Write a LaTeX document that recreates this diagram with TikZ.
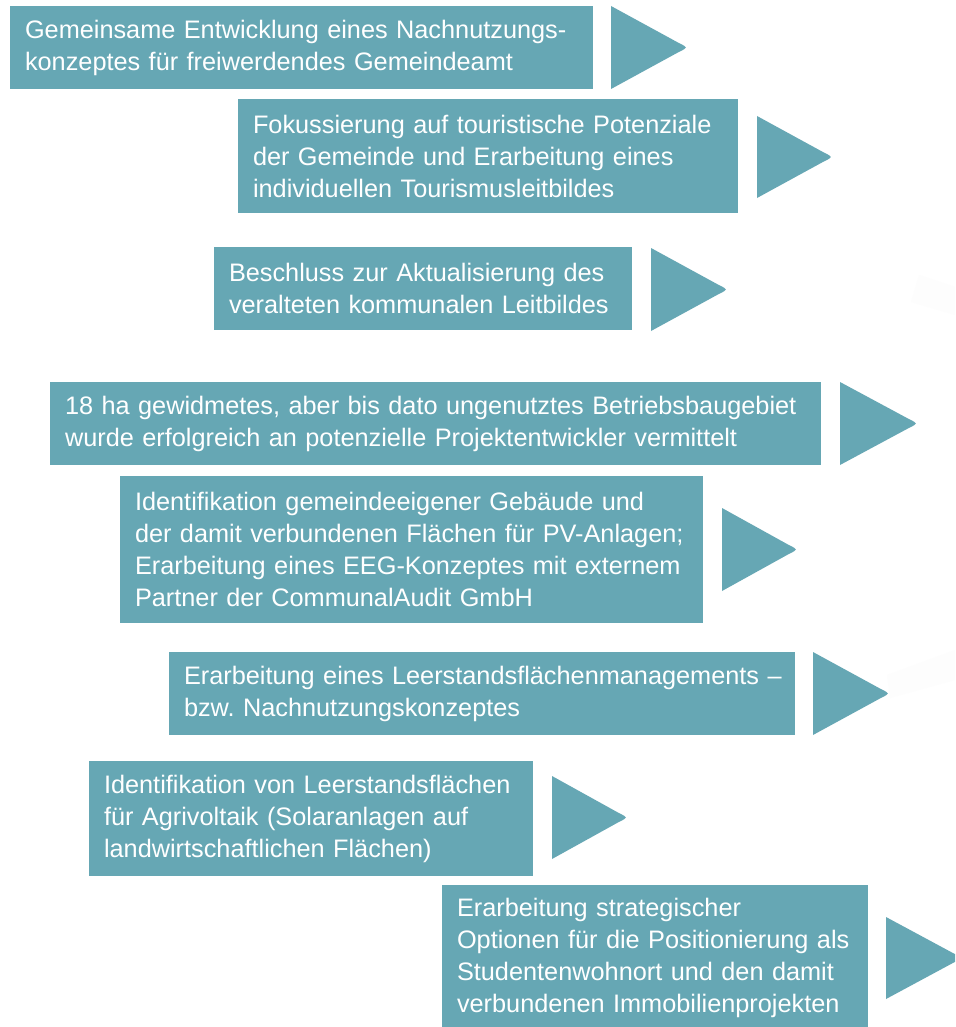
\documentclass[tikz,border=0pt]{standalone}
\usepackage{fontspec}
\setmainfont{Liberation Sans}
\definecolor{teal1}{RGB}{102,167,180}
\definecolor{faint}{RGB}{253,253,253}
\tikzset{
  box/.style={fill=teal1, text=white, inner xsep=15pt, inner ysep=0pt, align=left,
    font=\fontsize{25.3}{32}\selectfont\frenchspacing, anchor=center},
  tri/.style={fill=teal1},
}
\newcommand{\tri}[4]{% x0 x1 ytop ybot
  \fill[tri] (#1,#3) -- ({#2-8},{(#3+#4)/2-4.4}) .. controls ({#2+1},{(#3+#4)/2}) .. ({#2-8},{(#3+#4)/2+4.4}) -- (#1,#4) -- cycle;}
\begin{document}
\begin{tikzpicture}[x=1pt,y=-1pt]
\clip (0,0) rectangle (955,1027);
\fill[white] (0,0) rectangle (955,1027);
% faint background shapes
\fill[faint] (919,275) -- (955,287) -- (955,315) -- (911,302) -- cycle;
\fill[faint] (887,675) -- (955,650) -- (955,680) -- (890,698) -- cycle;
% boxes
\node[box, minimum width=583pt, minimum height=83pt, text width=553pt] (b1) at (301.5,47.5)
  {Gemeinsame Entwicklung eines Nachnutzungs-\\konzeptes für freiwerdendes Gemeindeamt};
\node[box, minimum width=500pt, minimum height=114pt, text width=470pt] (b2) at (488,156)
  {Fokussierung auf touristische Potenziale\\der Gemeinde und Erarbeitung eines\\individuellen Tourismusleitbildes};
\node[box, minimum width=418pt, minimum height=83pt, text width=388pt] (b3) at (423,288.5)
  {Beschluss zur Aktualisierung des\\veralteten kommunalen Leitbildes};
\node[box, minimum width=771pt, minimum height=83pt, text width=741pt] (b4) at (435.5,423.5)
  {18 ha gewidmetes, aber bis dato ungenutztes Betriebsbaugebiet\\wurde erfolgreich an potenzielle Projektentwickler vermittelt};
\node[box, minimum width=583pt, minimum height=147pt, text width=553pt] (b5) at (411.5,549.5)
  {Identifikation gemeindeeigener Gebäude und\\der damit verbundenen Flächen für PV-Anlagen;\\Erarbeitung eines EEG-Konzeptes mit externem\\Partner der CommunalAudit GmbH};
\node[box, minimum width=626pt, minimum height=83pt, text width=596pt] (b6) at (482,693.5)
  {\mbox{Erarbeitung eines Leerstandsflächenmanagements –}\\bzw. Nachnutzungskonzeptes};
\node[box, minimum width=444pt, minimum height=115pt, text width=414pt] (b7) at (311,818.5)
  {Identifikation von Leerstandsflächen\\für Agrivoltaik (Solaranlagen auf\\landwirtschaftlichen Flächen)};
\node[box, minimum width=426pt, minimum height=146pt, text width=396pt] (b8) at (655,958)
  {Erarbeitung strategischer\\Optionen für die Positionierung als\\Studentenwohnort und den damit\\verbundenen Immobilienprojekten};
% triangles
\tri{611}{687}{6}{89}
\tri{757}{832}{116}{198}
\tri{651}{727}{248}{331}
\tri{840}{917}{382}{465}
\tri{722}{797}{508}{591}
\tri{813}{889}{652}{735}
\tri{552}{627}{776}{859}
\tri{886}{962}{917}{999}
\end{tikzpicture}
\end{document}
